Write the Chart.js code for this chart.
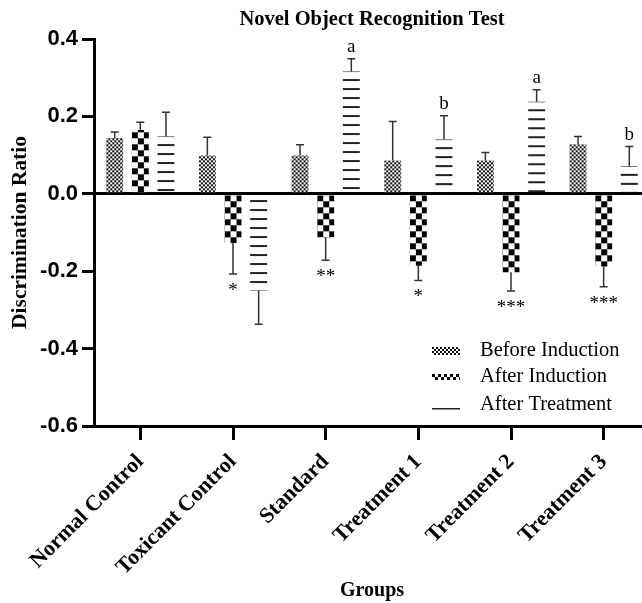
<!DOCTYPE html>
<html><head><meta charset="utf-8">
<script src="https://cdn.jsdelivr.net/npm/chart.js@4/dist/chart.umd.min.js"></script>
<style>html,body{margin:0;padding:0;overflow:hidden;background:#fff;width:642px;height:603px}canvas{display:block}</style>
</head><body>
<canvas id="c" width="650" height="603"></canvas>
<script>
const categories = ['Normal Control','Toxicant Control','Standard','Treatment 1','Treatment 2','Treatment 3'];
const seriesNames = ['Before Induction','After Induction','After Treatment'];
const beforeInduction = [0.144, 0.099, 0.099, 0.086, 0.086, 0.128];
const afterInduction = [0.165, -0.127, -0.113, -0.186, -0.203, -0.188];
const afterTreatment = [0.148, -0.250, 0.316, 0.140, 0.238, 0.071];
const errBefore = [0.016, 0.047, 0.028, 0.101, 0.021, 0.020];
const errAfterInduction = [0.020, 0.080, 0.059, 0.038, 0.048, 0.052];
const errAfterTreatment = [0.063, 0.087, 0.033, 0.062, 0.031, 0.051];
const sigBefore = ['', '', '', '', '', ''];
const sigAfterInduction = ['', '*', '**', '*', '***', '***'];
const sigAfterTreatment = ['', '', 'a', 'b', 'a', 'b'];
const yTicks = {min: -0.6, max: 0.4, step: 0.2};

const values = [beforeInduction, afterInduction, afterTreatment];
const errors = [errBefore, errAfterInduction, errAfterTreatment];
const sigs = [sigBefore, sigAfterInduction, sigAfterTreatment];

const canvas = document.getElementById('c');
const g0 = canvas.getContext('2d');
function makeTile(w, h, draw) { const c = document.createElement('canvas'); c.width = w; c.height = h; draw(c.getContext('2d')); return c; }
const fineTile = makeTile(4, 4, g => { g.fillStyle = '#fff'; g.fillRect(0,0,4,4); g.fillStyle = '#111'; g.fillRect(0,0,2,2); g.fillRect(2,2,2,2); });
const bigTile = makeTile(12, 12, g => { g.fillStyle = '#fff'; g.fillRect(0,0,12,12); g.fillStyle = '#000'; g.fillRect(0,0,6,6); g.fillRect(6,6,6,6); });
const smallBigTile = makeTile(6, 6, g => { g.fillStyle = '#fff'; g.fillRect(0,0,6,6); g.fillStyle = '#000'; g.fillRect(0,0,3,3); g.fillRect(3,3,3,3); });
const lineTile = makeTile(8, 9, g => { g.fillStyle = '#222'; g.fillRect(0,0,8,2); });
const tiles = [fineTile, bigTile, lineTile];
const patterns = tiles.map(t => categories.map(() => g0.createPattern(t, 'repeat')));

const serif = 'Liberation Serif';

const patternPlugin = {
  id: 'patternAlign',
  beforeDatasetsDraw(chart) {
    chart.data.datasets.forEach((ds, di) => {
      const meta = chart.getDatasetMeta(di);
      meta.data.forEach((bar, i) => {
        const left = bar.x - bar.width / 2;
        let ty = bar.base;
        if (di === 2) {
          ty = values[di][i] >= 0 ? bar.y + 7.5 : bar.y - 9.5;
        }
        patterns[di][i].setTransform(new DOMMatrix().translate(left, ty));
      });
    });
  }
};

const errorPlugin = {
  id: 'errorBars',
  afterDatasetsDraw(chart) {
    const ctx = chart.ctx;
    const y = chart.scales.y;
    ctx.save();
    chart.data.datasets.forEach((ds, di) => {
      const meta = chart.getDatasetMeta(di);
      meta.data.forEach((bar, i) => {
        const v = values[di][i];
        const s = v >= 0 ? 1 : -1;
        const endPx = y.getPixelForValue(v + s * errors[di][i]);
        ctx.strokeStyle = '#333';
        ctx.lineWidth = 1.5;
        ctx.beginPath();
        ctx.moveTo(bar.x, bar.y);
        ctx.lineTo(bar.x, endPx);
        ctx.moveTo(bar.x - 4, endPx);
        ctx.lineTo(bar.x + 4, endPx);
        ctx.stroke();
        const label = sigs[di][i];
        if (label) {
          ctx.fillStyle = '#000';
          ctx.textAlign = 'center';
          ctx.textBaseline = 'alphabetic';
          ctx.font = '19px "' + serif + '"';
          if (s > 0) ctx.fillText(label, bar.x, endPx - 7);
          else ctx.fillText(label, bar.x, endPx + 22);
        }
      });
    });
    ctx.restore();
  }
};

const legendPlugin = {
  id: 'customLegend',
  afterDraw(chart) {
    const ctx = chart.ctx;
    const a = chart.chartArea;
    const x0 = a.left + 338, tx = a.left + 386;
    const rows = [a.top + 312, a.top + 338, a.top + 366];
    ctx.save();
    ctx.font = '20.5px "' + serif + '"';
    ctx.fillStyle = '#000';
    ctx.textAlign = 'left';
    ctx.textBaseline = 'middle';
    seriesNames.forEach((name, k) => {
      const cy = rows[k];
      if (k === 0) {
        const p = ctx.createPattern(fineTile, 'repeat');
        p.setTransform(new DOMMatrix().translate(x0, cy - 4));
        ctx.fillStyle = p; ctx.fillRect(x0, cy - 4, 28, 8);
      } else if (k === 1) {
        const p = ctx.createPattern(smallBigTile, 'repeat');
        p.setTransform(new DOMMatrix().translate(x0, cy - 3));
        ctx.fillStyle = p; ctx.fillRect(x0, cy - 3, 28, 6);
      } else {
        ctx.fillStyle = '#222'; ctx.fillRect(x0, cy + 3, 28, 1.5);
      }
      ctx.fillStyle = '#000';
      ctx.fillText(name, tx, cy);
    });
    ctx.restore();
  }
};

new Chart(canvas, {
  type: 'bar',
  data: {
    labels: categories,
    datasets: values.map((vals, di) => ({
      label: seriesNames[di],
      data: vals,
      backgroundColor: c => (c.dataIndex !== undefined ? patterns[di][c.dataIndex] : '#000'),
      borderWidth: 0,
      barPercentage: 0.66,
      categoryPercentage: 0.83
    }))
  },
  options: {
    responsive: false,
    animation: false,
    events: [],
    layout: {padding: 0},
    plugins: {
      legend: {display: false},
      tooltip: {enabled: false},
      title: {
        display: true, fullSize: false,
        text: 'Novel Object Recognition Test', color: '#000',
        font: {family: serif, size: 20.5, weight: 'bold', lineHeight: 1.2},
        padding: {top: 7, bottom: 7.4}
      }
    },
    scales: {
      x: {
        grid: {display: true, drawOnChartArea: false, offset: false, tickColor: '#000', tickLength: 14, tickWidth: 3},
        border: {display: true, color: '#000', width: 3},
        ticks: {color: '#000', font: {family: serif, size: 22, weight: 'bold'}, minRotation: 45, maxRotation: 45, padding: 9, autoSkip: false},
        title: {display: true, text: 'Groups', color: '#000', font: {family: serif, size: 20, weight: 'bold'}, padding: {top: 0, bottom: 0}},
        afterFit: s => { s.height = 177; s.paddingLeft = 0; s.paddingRight = 0; }
      },
      y: {
        min: yTicks.min, max: yTicks.max, z: 1,
        ticks: {stepSize: yTicks.step, color: '#000', font: {family: 'Liberation Sans', size: 22, weight: 'bold'}, padding: 4, callback: v => Number(v).toFixed(1)},
        grid: {drawOnChartArea: true, color: c => (c.tick && Math.abs(c.tick.value) < 1e-9 ? '#000' : 'rgba(0,0,0,0)'), lineWidth: 3, tickColor: '#000', tickLength: 12, tickWidth: 3},
        border: {display: true, color: '#000', width: 3},
        title: {display: true, text: 'Discrimination Ratio', color: '#000', font: {family: serif, size: 21.5, weight: 'bold'}, padding: {top: 8, bottom: 0}},
        afterFit: s => { s.width = 94; }
      }
    }
  },
  plugins: [patternPlugin, errorPlugin, legendPlugin]
});
</script>
</body></html>
